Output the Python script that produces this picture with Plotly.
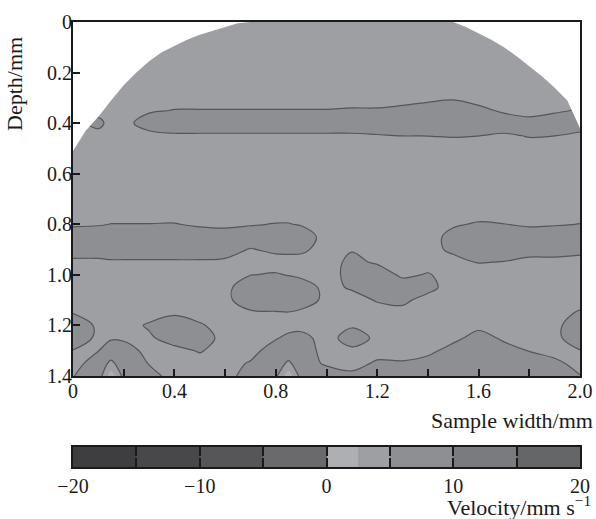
import plotly.graph_objects as go

# ---------------- data ----------------
width_mm = [0.0, 0.1, 0.15, 0.2, 0.3, 0.4, 0.5, 0.6, 0.7, 0.8, 0.85, 0.9,
            1.0, 1.1, 1.2, 1.3, 1.4, 1.5, 1.6, 1.7, 1.8, 1.9, 2.0]
depth_mm = [0.00, 0.05, 0.10, 0.15, 0.20, 0.25, 0.30, 0.35, 0.40, 0.45,
            0.50, 0.55, 0.60, 0.65, 0.70, 0.75, 0.80, 0.85, 0.90, 0.95,
            1.00, 1.05, 1.10, 1.15, 1.20, 1.25, 1.30, 1.35, 1.40]

# velocity (mm/s), one row per depth, one column per width
velocity = [
    [4, 4, 4, 4, 4, 4, 4, 4, 4, 4, 4, 4, 4, 4, 4, 4, 4, 4, 4, 4, 4, 4, 4],
    [4, 4, 4, 4, 4, 4, 4, 4, 4, 4, 4, 4, 4, 4, 4, 4, 4, 4, 4, 4, 4, 4, 4],
    [4, 4, 4, 4, 4, 4, 4, 4, 4, 4, 4, 4, 4, 4, 4, 4, 4, 4, 4, 4, 4, 4, 4],
    [4, 4, 4, 4, 4, 4, 4, 4, 4, 4, 4, 4, 4, 4, 4, 4, 4, 4, 4, 4, 4, 4, 4],
    [4, 4, 4, 4, 4, 4, 4, 4, 4, 4, 4, 4, 4, 4, 4, 4, 4, 4, 4, 4, 4, 4, 4],
    [4, 4, 4, 4, 4, 4, 4, 4, 4, 4, 4, 4, 4, 4, 4, 4, 4, 4, 4, 4, 4, 4, 4],
    [4, 4, 4, 4, 4, 4, 4, 4, 4, 4, 4, 4, 4, 4, 4, 4, 4.3, 4.8, 4, 4, 4, 4, 4],
    [4, 4, 4, 4, 4.6, 5.1, 5.1, 5.1, 5.1, 5.1, 5.1, 5.1, 5.1, 5.25, 5.25, 5.67, 6.3, 6.0, 5.67, 4.6, 3.5, 4.6, 5.25],
    [4, 5.8, 4, 4, 6.5, 6.5, 6.5, 6.5, 6.5, 6.5, 6.5, 6.5, 6.5, 6.5, 6.5, 6.5, 6.5, 6.5, 6.5, 6.5, 6.5, 6.5, 6.5],
    [4, 4, 4, 4, 4.0, 4.62, 4.62, 4.62, 4.62, 4.62, 4.62, 4.62, 4.62, 4.62, 4.83, 5.02, 5.02, 5.15, 5.02, 4.62, 5.15, 5.02, 4.36],
    [4, 4, 4, 4, 4, 4, 4, 4, 4, 4, 4, 4, 4, 4, 4, 4, 4, 4, 4, 4, 4, 4, 4],
    [4, 4, 4, 4, 4, 4, 4, 4, 4, 4, 4, 4, 4, 4, 4, 4, 4, 4, 4, 4, 4, 4, 4],
    [4, 4, 4, 4, 4, 4, 4, 4, 4, 4, 4, 4, 4, 4, 4, 4, 4, 4, 4, 4, 4, 4, 4],
    [4, 4, 4, 4, 4, 4, 4, 4, 4, 4, 4, 4, 4, 4, 4, 4, 4, 4, 4, 4, 4, 4, 4],
    [4, 4, 4, 4, 4, 4, 4, 4, 4, 4, 4, 4, 4, 4, 4, 4, 4, 4, 4, 4, 4, 4, 4],
    [4, 4, 4, 4, 4, 4, 4, 4, 4, 4, 4, 4, 4, 4, 4, 4, 4, 4, 4, 4, 4, 4, 4],
    [4.62, 4.8, 5.05, 5.05, 5.05, 5.11, 4.62, 4.36, 4.8, 5.11, 5.11, 4.8, 4, 4, 4, 4, 4, 4.7, 5.25, 5.05, 4.62, 4.8, 5.05],
    [6.5, 6.5, 6.5, 6.5, 6.5, 6.5, 6.5, 6.5, 6.5, 6.5, 6.5, 6.5, 4, 4, 4, 4, 4, 5.8, 6.5, 6.5, 6.5, 6.5, 6.5],
    [5.93, 5.93, 6.6, 6.6, 6.6, 6.6, 6.6, 5.93, 4.83, 5.52, 5.6, 5.5, 4, 4.85, 4, 4, 4, 5.6, 6.5, 6.5, 6.5, 6.5, 5.8],
    [4.6, 4.6, 4.6, 4.6, 4.6, 4.6, 4.6, 4.6, 4, 4, 4, 4, 4, 5.6, 4.7, 4, 4, 4, 5.11, 4.9, 4, 4, 4],
    [4, 4, 4, 4, 4, 4, 4, 4, 4.95, 5.2, 4.9, 4.4, 4, 5.8, 6.5, 4.5, 5.2, 4, 4, 4, 4, 4, 4],
    [4, 4, 4, 4, 4, 4, 4, 4.36, 6.5, 6.5, 6.5, 6.5, 4.2, 5.3, 6.5, 6.5, 6.0, 3.5, 4, 4, 4, 4, 4],
    [4, 4, 4, 4, 4, 4, 4, 4.36, 6.5, 6.5, 6.5, 6.3, 4.4, 4, 5.2, 5.7, 3.8, 4, 4, 4, 4, 4, 4],
    [4.9, 4, 4, 4, 4, 4.6, 4, 4, 4.6, 4.8, 4.9, 4.5, 4, 4, 4, 4, 4, 4, 4, 4, 4, 4, 5.3],
    [6.5, 4.6, 4, 4, 5.3, 6.5, 5.3, 4, 4, 4, 4, 4, 4, 4.62, 4, 4, 4, 4, 4, 4, 4, 4.36, 6.5],
    [6.5, 4.5, 4.7, 4.5, 4.6, 6.2, 6.5, 4, 4, 4.76, 5.67, 6.0, 3.77, 6.5, 4.36, 4, 4, 4, 6.5, 4.4, 4, 4.36, 6.5],
    [4.9, 4.95, 6.5, 6.5, 4, 4.2, 5.2, 4, 4, 6.5, 6.5, 6.5, 4, 4.36, 4, 4, 4, 6.5, 6.5, 6.4, 4.9, 4, 4.9],
    [4, 6.3, 4.5, 6.2, 4.9, 4, 4, 4, 5.25, 6.2, 4.6, 6.3, 4.62, 4, 5.39, 5.25, 6.5, 6.5, 6.5, 6.5, 6.5, 5.67, 4],
    [4.9, 6.5, 1.0, 5.8, 6.0, 4, 4, 4.18, 6.0, 5.5, 1.0, 6.0, 6.5, 5.67, 6.0, 6.0, 6.5, 6.5, 6.5, 6.5, 6.3, 6.0, 5.1],
]

# sample surface (depth of the top of the sample along the width)
surface_x = [0.0, 0.05, 0.1, 0.15, 0.2, 0.25, 0.3, 0.35, 0.4, 0.45, 0.5, 0.55, 0.6, 0.65,
             0.7, 0.75, 0.8, 0.85, 0.9, 0.95, 1.0, 1.05, 1.1, 1.15, 1.2, 1.25, 1.3, 1.35,
             1.4, 1.45, 1.5, 1.55, 1.6, 1.65, 1.7, 1.75, 1.8, 1.85, 1.9, 1.95, 2.0]
surface_depth = [0.51, 0.43, 0.375, 0.31, 0.25, 0.2, 0.155, 0.12, 0.095, 0.07, 0.05, 0.035, 0.02, 0.005,
                 0, 0, 0, 0, 0, 0, 0, 0, 0, 0, 0, 0, 0, 0,
                 0, 0, 0, 0.02, 0.045, 0.07, 0.1, 0.135, 0.175, 0.215, 0.26, 0.31, 0.42]

x_tick_vals = [0, 0.4, 0.8, 1.2, 1.6, 2.0]
x_tick_text = ["0", "0.4", "0.8", "1.2", "1.6", "2.0"]
y_tick_vals = [0, 0.2, 0.4, 0.6, 0.8, 1.0, 1.2, 1.4]
y_tick_text = ["0", "0.2", "0.4", "0.6", "0.8", "1.0", "1.2", "1.4"]
cbar_tick_vals = [-20, -15, -10, -5, 0, 5, 10, 15, 20]
cbar_tick_text = ["\u221220", "", "\u221210", "", "0", "", "10", "", "20"]

# velocity levels (band edges) and the grey of each band
levels = [-20, -17.5, -15, -12.5, -10, -7.5, -5, -2.5, 0, 2.5, 5, 7.5, 10, 12.5, 15, 17.5, 20]
band_colors = ["#3e3e40", "#3e3e40", "#48484a", "#48484a", "#565658", "#565658",
               "#6a6a6c", "#6a6a6c", "#aeafb2", "#9d9fa3", "#8d8f93", "#8d8f93",
               "#7a7b7e", "#7a7b7e", "#656668", "#656668"]

# ---------------- figure ----------------
n_bands = len(band_colors)
# contour fill colour map (plotly samples band midpoints, plus one region each side)
region_colors = [band_colors[0]] + band_colors + [band_colors[-1]]
contour_cs = [[k / (len(region_colors) - 1), c] for k, c in enumerate(region_colors)]
# step colour scale for the colour bar strip
strip_cs = []
for i, c in enumerate(band_colors):
    strip_cs += [[i / n_bands, c], [(i + 1) / n_bands, c]]
band_mid = [(a + b) / 2 for a, b in zip(levels[:-1], levels[1:])]

FONT = "Liberation Serif"
INK = "#1a1a1a"

fig = go.Figure()

fig.add_trace(go.Contour(
    x=width_mm, y=depth_mm, z=velocity,
    colorscale=contour_cs, autocontour=False,
    contours=dict(start=levels[0], end=levels[-1], size=levels[1] - levels[0],
                  coloring="fill", showlines=False),
    line=dict(width=0, smoothing=1),
    showscale=False, hoverinfo="skip",
))

fig.add_trace(go.Contour(
    x=width_mm, y=depth_mm, z=velocity,
    colorscale=[[0, "#55565a"], [1, "#55565a"]], autocontour=False,
    contours=dict(start=5, end=5, size=2.5, coloring="lines"),
    line=dict(width=1.2, smoothing=1),
    showscale=False, hoverinfo="skip",
))

# blank out the area above the sample surface
fig.add_trace(go.Scatter(
    x=surface_x + [surface_x[-1], surface_x[0]],
    y=surface_depth + [depth_mm[0], depth_mm[0]],
    mode="lines", fill="toself", fillcolor="white",
    line=dict(width=0, color="white"), hoverinfo="skip", showlegend=False,
))

# colour bar drawn as a strip on its own axes
fig.add_trace(go.Heatmap(
    x=levels, y=[0, 1], z=[band_mid],
    colorscale=strip_cs, zmin=levels[0], zmax=levels[-1],
    showscale=False, hoverinfo="skip", xaxis="x2", yaxis="y2",
))

tickfont = dict(family=FONT, size=20, color=INK)
X_DOMAIN = [0, 0.9694]

fig.update_layout(
    width=596, height=519,
    margin=dict(l=73, r=0, t=22, b=52),
    paper_bgcolor="white", plot_bgcolor="white",
    showlegend=False,
    font=dict(family=FONT, size=20, color=INK),
    xaxis=dict(domain=X_DOMAIN, anchor="y", range=[0, 2.0], automargin=False,
               tickmode="array", tickvals=x_tick_vals, ticktext=x_tick_text,
               showline=True, linewidth=2, linecolor=INK, mirror=True,
               ticks="inside", ticklen=7, tickwidth=1.5, tickcolor=INK,
               minor=dict(dtick=0.2, ticks="inside", ticklen=7, tickwidth=1.5,
                          tickcolor=INK, showgrid=False),
               showgrid=False, zeroline=False, tickfont=tickfont,
               ticklabelstandoff=-4),
    yaxis=dict(domain=[0.2045, 1], anchor="x", range=[1.4, 0], automargin=False,
               tickmode="array", tickvals=y_tick_vals, ticktext=y_tick_text,
               showline=True, linewidth=2, linecolor=INK, mirror=True,
               ticks="inside", ticklen=7, tickwidth=1.5, tickcolor=INK,
               showgrid=False, zeroline=False, tickfont=tickfont,
               ticklabelstandoff=-5),
    xaxis2=dict(domain=X_DOMAIN, anchor="y2", range=[levels[0], levels[-1]],
                automargin=False,
                tickmode="array", tickvals=cbar_tick_vals, ticktext=cbar_tick_text,
                showline=True, linewidth=1.5, linecolor=INK, mirror="ticks",
                ticks="inside", ticklen=9, tickwidth=1.5, tickcolor=INK,
                showgrid=False, zeroline=False, tickfont=tickfont,
                ticklabelstandoff=0),
    yaxis2=dict(domain=[0, 0.0449], anchor="x2", range=[0, 1], automargin=False,
                showline=True, linewidth=1.5, linecolor=INK, mirror=True,
                ticks="", showticklabels=False, showgrid=False, zeroline=False),
    annotations=[
        dict(text="Depth/mm", xref="paper", yref="paper", x=-0.1109, y=0.8607,
             textangle=-90, showarrow=False, xanchor="center", yanchor="middle",
             font=dict(family=FONT, size=22, color=INK)),
        dict(text="Sample width/mm", xref="paper", yref="paper", x=0.998, y=0.1056,
             showarrow=False, xanchor="right", yanchor="middle",
             font=dict(family=FONT, size=22, color=INK)),
        dict(text="Velocity/mm s<sup>\u22121</sup>", xref="paper", yref="paper",
             x=0.994, y=-0.0876, showarrow=False, xanchor="right", yanchor="middle",
             font=dict(family=FONT, size=22, color=INK)),
    ],
)

fig.write_html("out.html", config={"displayModeBar": False},
               post_script="document.body.style.margin='0px';")
